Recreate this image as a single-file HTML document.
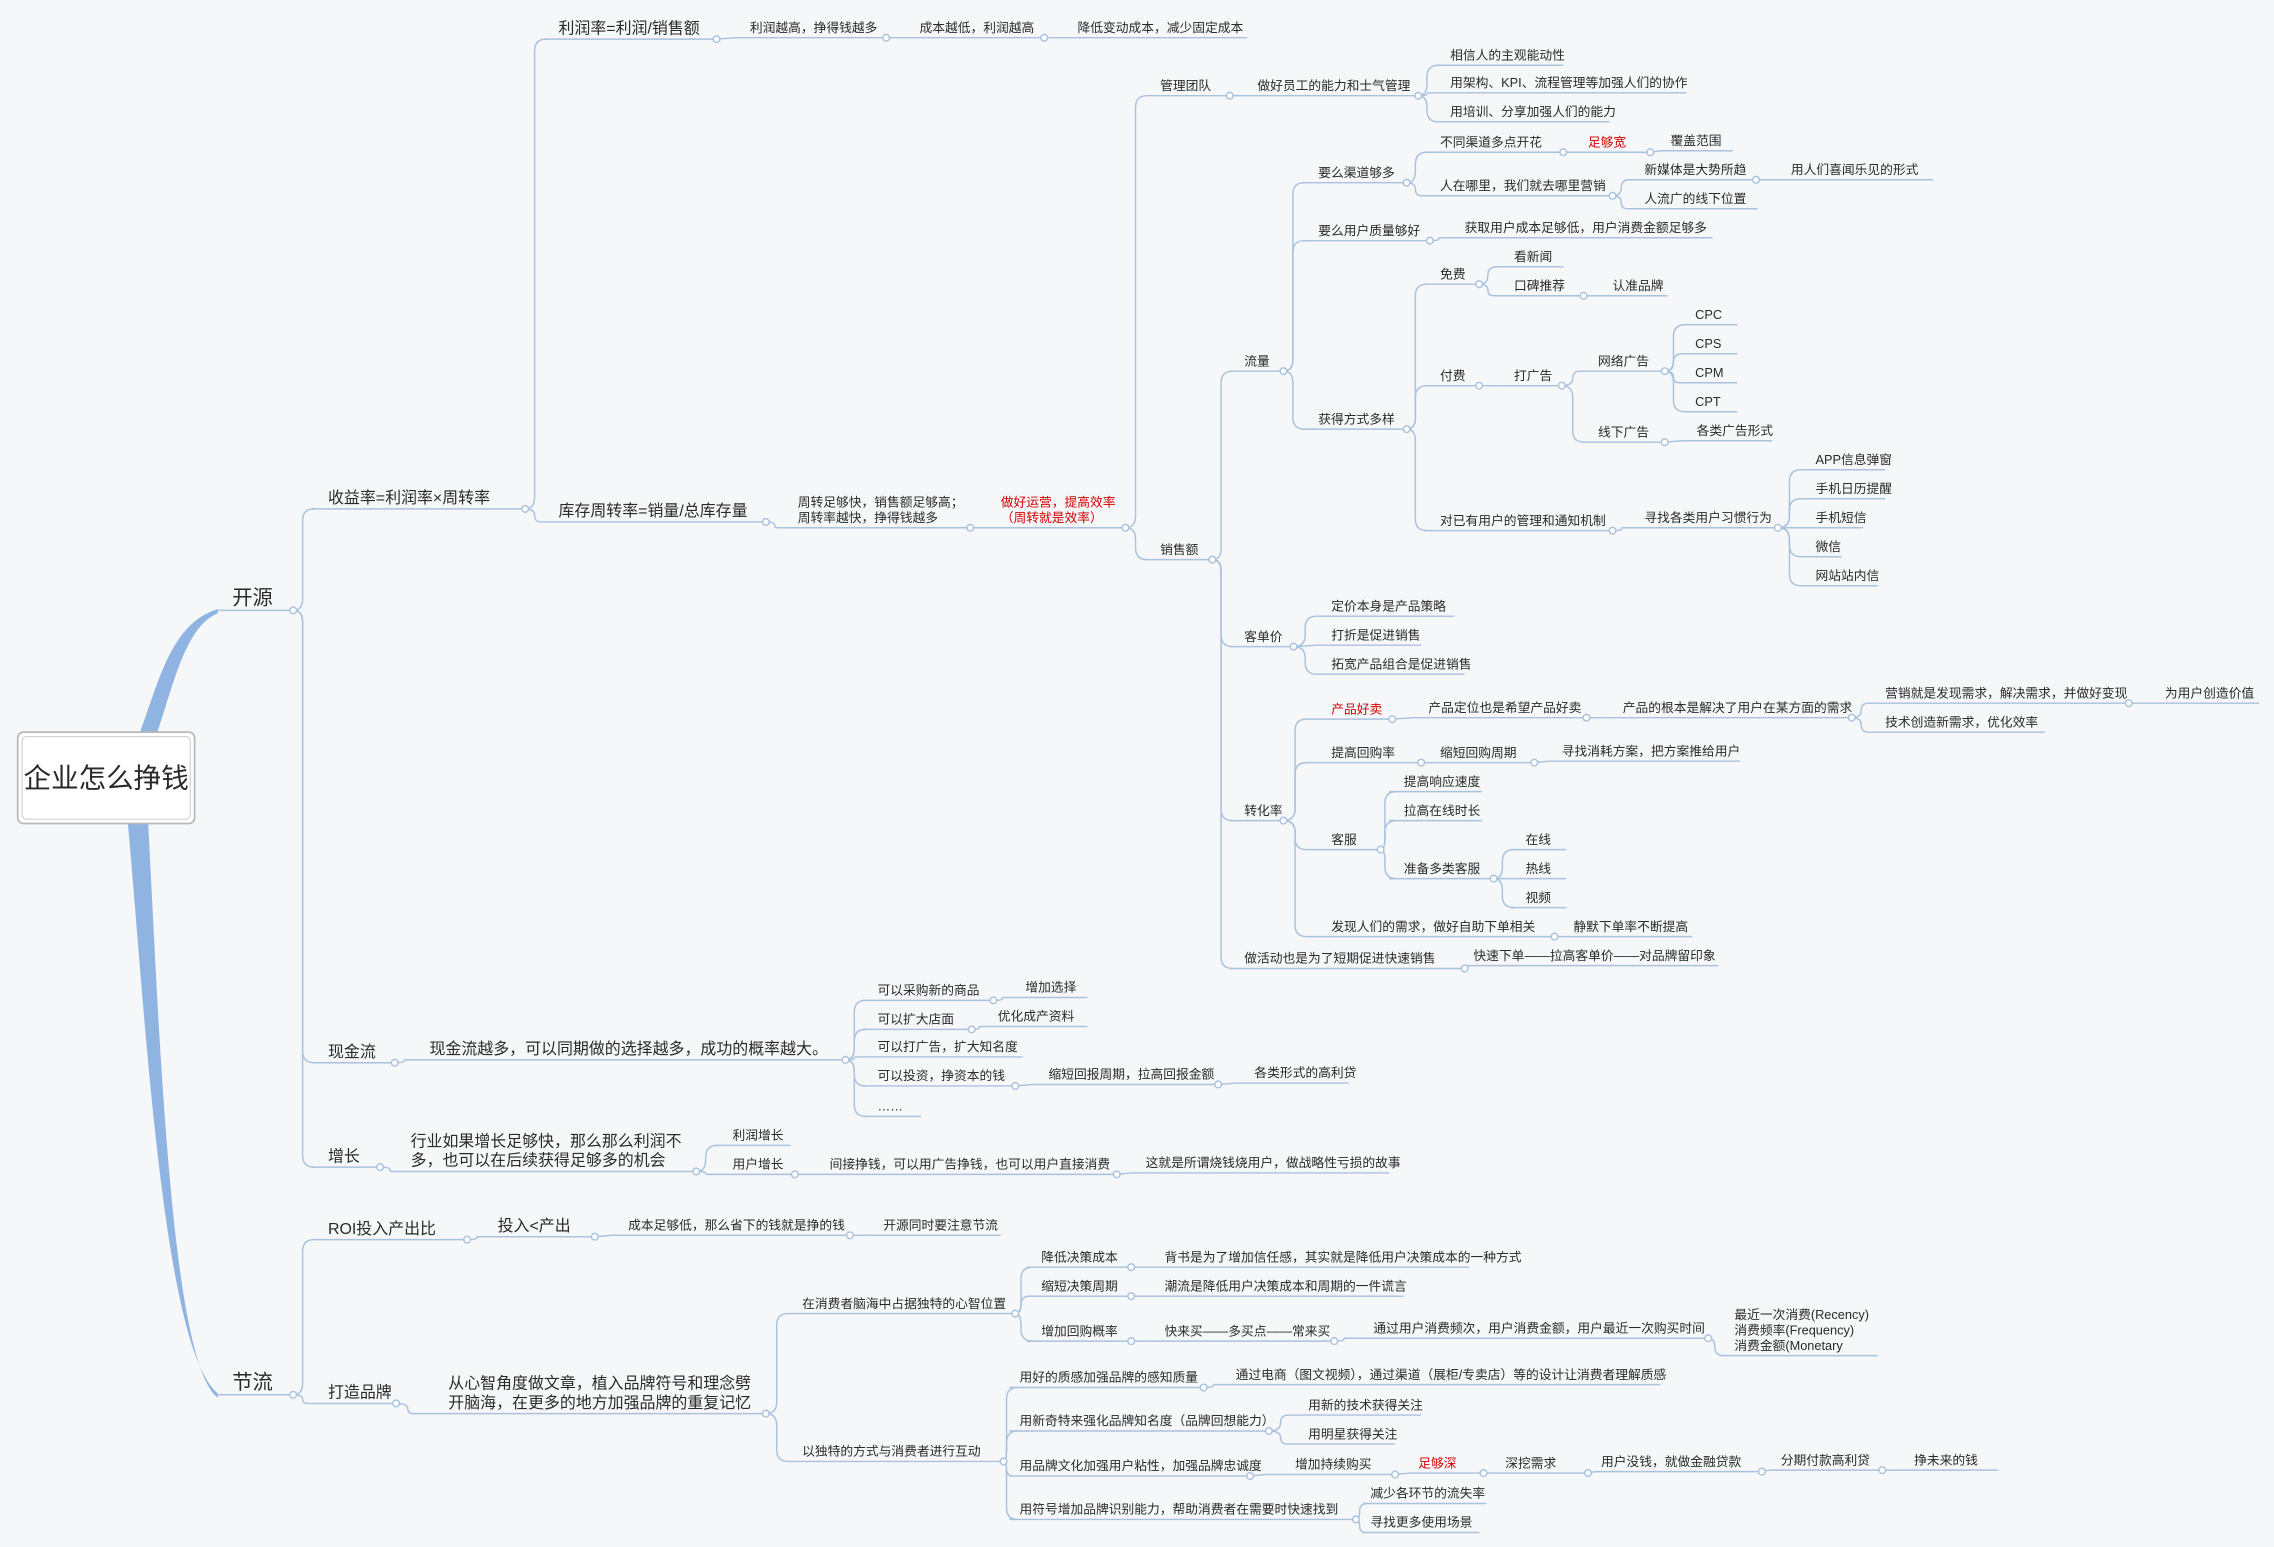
<!DOCTYPE html>
<html><head><meta charset="utf-8">
<style>
html,body{margin:0;padding:0;background:#f6f7f9;}
svg{display:block;}
text{font-family:"Liberation Sans","Noto Sans CJK SC",sans-serif;fill:#2a2a2a;}
</style></head>
<body>
<svg id="s" width="2274" height="1547" viewBox="0 0 1568 1067" xmlns="http://www.w3.org/2000/svg">
<rect width="1568" height="1067" fill="#f6f7f9"/>
<path d="M96,506 C110,468 118,430 150,420 L150,423 C128,432 120,470 108,506 Z" fill="#8fb4e1"/>
<path d="M88,568 C100,700 112,930 150,961 L150,964 C118,940 110,720 102,568 Z" fill="#8fb4e1"/>
<rect x="12" y="505" width="122" height="63" rx="4" fill="#fff" stroke="#b8b8b8" stroke-width="1.2"/>
<rect x="15" y="508" width="116" height="57" rx="3" fill="#fff" stroke="#d0d0d0" stroke-width="0.8"/>
<text x="73" y="543" font-size="19" text-anchor="middle">企业怎么挣钱</text>
<g id="g"></g>
</svg>
<script>
var N=[
["ky","",160,150,202,421,"开源",14,0],
["jl","",160,150,202,962,"节流",14,0],
["sy","ky",226,215,362,351,"收益率=利润率×周转率",11,0],
["xj","ky",226,215,272,733,"现金流",11,0],
["zz","ky",226,215,262,805,"增长",11,0],
["lr","sy",385,375,494,27,"利润率=利润/销售额",11,0],
["lr1","lr",517,507,611,26,"利润越高，挣得钱越多",8.8,0],
["lr2","lr1",634,624,720,26,"成本越低，利润越高",8.8,0],
["lr3","lr2",743,733,860,26,"降低变动成本，减少固定成本",8.8,0],
["kc","sy",385,375,528,360,"库存周转率=销量/总库存量",11,0],
["kc1","kc",550,540,669,364,"周转足够快，销售额足够高；\n周转率越快，挣得钱越多",8.8,0],
["kc2","kc1",690,682,776,364,"做好运营，提高效率\n（周转就是效率）",8.8,1],
["gl","kc2",800,790,848,66,"管理团队",8.8,0],
["gl1","gl",867,858,978,66,"做好员工的能力和士气管理",8.8,0],
["a1","gl1",1000,990,1078,45,"相信人的主观能动性",8.8,0],
["a2","gl1",1000,990,1163,64,"用架构、KPI、流程管理等加强人们的协作",8.8,0],
["a3","gl1",1000,990,1110,84,"用培训、分享加强人们的能力",8.8,0],
["xs","kc2",800,790,836,386,"销售额",8.8,0],
["ll","xs",858,848,885,256,"流量",8.8,0],
["qd","ll",909,898,970,126,"要么渠道够多",8.8,0],
["qd1","qd",993,982,1078,105,"不同渠道多点开花",8.8,0],
["qd2","qd1",1095,1088,1138,105,"足够宽",8.8,1],
["qd3","qd2",1152,1145,1195,104,"覆盖范围",8.8,0],
["qd4","qd",993,982,1112,135,"人在哪里，我们就去哪里营销",8.8,0],
["qd5","qd4",1134,1124,1211,124,"新媒体是大势所趋",8.8,0],
["qd6","qd5",1235,1222,1333,124,"用人们喜闻乐见的形式",8.8,0],
["qd7","qd4",1134,1124,1212,144,"人流广的线下位置",8.8,0],
["zl","ll",909,898,986,166,"要么用户质量够好",8.8,0],
["zl1","zl",1010,998,1181,164,"获取用户成本足够低，用户消费金额足够多",8.8,0],
["hd","ll",909,898,970,296,"获得方式多样",8.8,0],
["mf","hd",993,982,1020,196,"免费",8.8,0],
["mf1","mf",1044,1032,1078,184,"看新闻",8.8,0],
["mf2","mf",1044,1032,1092,204,"口碑推荐",8.8,0],
["mf3","mf2",1112,1102,1150,204,"认准品牌",8.8,0],
["ff","hd",993,982,1020,266,"付费",8.8,0],
["dg","ff",1044,1032,1077,266,"打广告",8.8,0],
["wl","dg",1102,1092,1148,256,"网络广告",8.8,0],
["c1","wl",1169,1160,1198,224,"CPC",8.8,0],
["c2","wl",1169,1160,1198,244,"CPS",8.8,0],
["c3","wl",1169,1160,1198,264,"CPM",8.8,0],
["c4","wl",1169,1160,1198,284,"CPT",8.8,0],
["xx","dg",1102,1092,1148,305,"线下广告",8.8,0],
["xx1","xx",1170,1160,1222,304,"各类广告形式",8.8,0],
["yy","hd",993,982,1112,366,"对已有用户的管理和通知机制",8.8,0],
["yy1","yy",1134,1124,1226,364,"寻找各类用户习惯行为",8.8,0],
["p1","yy1",1252,1242,1300,324,"APP信息弹窗",8.8,0],
["p2","yy1",1252,1242,1300,344,"手机日历提醒",8.8,0],
["p3","yy1",1252,1242,1285,364,"手机短信",8.8,0],
["p4","yy1",1252,1242,1270,384,"微信",8.8,0],
["p5","yy1",1252,1242,1295,404,"网站站内信",8.8,0],
["kd","xs",858,848,892,446,"客单价",8.8,0],
["kd1","kd",918,908,1003,425,"定价本身是产品策略",8.8,0],
["kd2","kd",918,908,980,445,"打折是促进销售",8.8,0],
["kd3","kd",918,908,1010,465,"拓宽产品组合是促进销售",8.8,0],
["zh","xs",858,848,885,566,"转化率",8.8,0],
["cp","zh",918,908,960,496,"产品好卖",8.8,1],
["cp1","cp",985,975,1094,495,"产品定位也是希望产品好卖",8.8,0],
["cp2","cp1",1119,1108,1277,495,"产品的根本是解决了用户在某方面的需求",8.8,0],
["cp3","cp2",1300,1290,1468,485,"营销就是发现需求，解决需求，并做好变现",8.8,0],
["cp4","cp3",1493,1482,1558,485,"为用户创造价值",8.8,0],
["cp5","cp2",1300,1290,1410,505,"技术创造新需求，优化效率",8.8,0],
["hg","zh",918,908,980,526,"提高回购率",8.8,0],
["hg1","hg",993,982,1058,526,"缩短回购周期",8.8,0],
["hg2","hg1",1077,1068,1200,525,"寻找消耗方案，把方案推给用户",8.8,0],
["kf","zh",918,908,952,586,"客服",8.8,0],
["kf1","kf",968,958,1022,546,"提高响应速度",8.8,0],
["kf2","kf",968,958,1022,566,"拉高在线时长",8.8,0],
["kf3","kf",968,958,1030,606,"准备多类客服",8.8,0],
["k1","kf3",1052,1042,1080,586,"在线",8.8,0],
["k2","kf3",1052,1042,1080,606,"热线",8.8,0],
["k3","kf3",1052,1042,1080,626,"视频",8.8,0],
["fx","zh",918,908,1072,646,"发现人们的需求，做好自助下单相关",8.8,0],
["fx1","fx",1085,1080,1167,646,"静默下单率不断提高",8.8,0],
["hdz","xs",858,848,1010,668,"做活动也是为了短期促进快速销售",8.8,0],
["hdz1","hdz",1016,1012,1185,666,"快速下单——拉高客单价——对品牌留印象",8.8,0],
["x1","xj",296,285,583,731,"现金流越多，可以同期做的选择越多，成功的概率越大。",11,0],
["x2","x1",605,595,685,690,"可以采购新的商品",8.8,0],
["x3","x2",707,697,750,688,"增加选择",8.8,0],
["x4","x1",605,595,670,710,"可以扩大店面",8.8,0],
["x5","x4",688,680,750,708,"优化成产资料",8.8,0],
["x6","x1",605,595,705,729,"可以打广告，扩大知名度",8.8,0],
["x7","x1",605,595,700,749,"可以投资，挣资本的钱",8.8,0],
["x8","x7",723,712,840,748,"缩短回报周期，拉高回报金额",8.8,0],
["x9","x8",865,852,930,747,"各类形式的高利贷",8.8,0],
["x10","x1",605,595,635,770,"……",8.8,0],
["z1","zz",283,275,480,808,"行业如果增长足够快，那么那么利润不\n多，也可以在后续获得足够多的机会",11,0],
["z2","z1",505,493,545,790,"利润增长",8.8,0],
["z3","z1",505,493,548,810,"用户增长",8.8,0],
["z4","z3",572,560,770,810,"间接挣钱，可以用广告挣钱，也可以用户直接消费",8.8,0],
["z5","z4",790,780,958,809,"这就是所谓烧钱烧用户，做战略性亏损的故事",8.8,0],
["roi","jl",226,215,322,855,"ROI投入产出比",11,0],
["r1","roi",343,335,410,853,"投入<产出",11,0],
["r2","r1",433,422,586,852,"成本足够低，那么省下的钱就是挣的钱",8.8,0],
["r3","r2",609,598,690,852,"开源同时要注意节流",8.8,0],
["pp","jl",226,215,273,968,"打造品牌",11,0],
["pp1","pp",309,300,528,975,"从心智角度做文章，植入品牌符号和理念劈\n开脑海，在更多的地方加强品牌的重复记忆",11,0],
["m1","pp1",553,543,700,906,"在消费者脑海中占据独特的心智位置",8.8,0],
["m2","m1",718,708,780,874,"降低决策成本",8.8,0],
["m3","m2",803,793,1013,874,"背书是为了增加信任感，其实就是降低用户决策成本的一种方式",8.8,0],
["m4","m1",718,708,780,894,"缩短决策周期",8.8,0],
["m5","m4",803,793,968,894,"潮流是降低用户决策成本和周期的一件谎言",8.8,0],
["m6","m1",718,708,780,925,"增加回购概率",8.8,0],
["m7","m6",803,793,920,925,"快来买——多买点——常来买",8.8,0],
["m8","m7",947,933,1178,923,"通过用户消费频次，用户消费金额，用户最近一次购买时间",8.8,0],
["m9","m8",1196,1187,1295,935,"最近一次消费(Recency)\n消费频率(Frequency)\n消费金额(Monetary",8.8,0],
["n1","pp1",553,543,692,1008,"以独特的方式与消费者进行互动",8.8,0],
["n2","n1",703,696,830,957,"用好的质感加强品牌的感知质量",8.8,0],
["n3","n2",852,843,1145,955,"通过电商（图文视频），通过渠道（展柜/专卖店）等的设计让消费者理解质感",8.8,0],
["n4","n1",703,696,875,987,"用新奇特来强化品牌知名度（品牌回想能力）",8.8,0],
["n5","n4",902,893,980,976,"用新的技术获得关注",8.8,0],
["n6","n4",902,893,962,996,"用明星获得关注",8.8,0],
["n7","n1",703,696,862,1018,"用品牌文化加强用户粘性，加强品牌忠诚度",8.8,0],
["n8","n7",893,873,962,1017,"增加持续购买",8.8,0],
["n9","n8",978,972,1023,1016,"足够深",8.8,1],
["n10","n9",1038,1030,1095,1016,"深挖需求",8.8,0],
["n11","n10",1104,1100,1215,1015,"用户没钱，就做金融贷款",8.8,0],
["n12","n11",1228,1220,1298,1014,"分期付款高利贷",8.8,0],
["n13","n12",1320,1305,1378,1014,"挣未来的钱",8.8,0],
["n14","n1",703,696,935,1048,"用符号增加品牌识别能力，帮助消费者在需要时快速找到",8.8,0],
["n15","n14",945,940,1025,1037,"减少各环节的流失率",8.8,0],
["n16","n14",945,940,1020,1057,"寻找更多使用场景",8.8,0]
];
var NS="http://www.w3.org/2000/svg",g=document.getElementById("g"),M={},hasC={};
N.forEach(function(n){M[n[0]]=n;if(n[1])hasC[n[1]]=1;});
var LC="#a9c2de";
function el(t,a,txt){var e=document.createElementNS(NS,t);for(var k in a)e.setAttribute(k,a[k]);if(txt!=null)e.textContent=txt;g.appendChild(e);return e;}
N.forEach(function(n){
 var p=M[n[1]];
 if(p){var px=p[4],py=p[5],cx=n[3],cy=n[5],gx=cx-px,mx=px+Math.min(gx*0.5,8),dy=cy-py,s=dy>=0?1:-1,r=Math.min(Math.abs(dy)/2,8);
  var d;
  if(Math.abs(dy)<1.5)d="M"+px+","+py+" L"+cx+","+cy;
  else d="M"+px+","+py+" Q"+mx+","+py+" "+mx+","+(py+s*r)+" L"+mx+","+(cy-s*r)+" Q"+mx+","+cy+" "+(mx+r)+","+cy+" L"+cx+","+cy;
  el("path",{d:d,fill:"none",stroke:LC,"stroke-width":1});}
 el("line",{x1:n[3],y1:n[5],x2:n[4],y2:n[5],stroke:LC,"stroke-width":1});
 var lines=n[6].split("\n"),sz=n[7],lh=sz*1.2;
 for(var i=0;i<lines.length;i++){
  var y=n[5]-4-(lines.length-1-i)*lh;
  var a={x:n[2],y:y,"font-size":sz};
  if(n[8])a.style="fill:#d40000";
  el("text",a,lines[i]);
 }
});
N.forEach(function(n){if(hasC[n[0]])el("circle",{cx:n[4],cy:n[5],r:2.3,fill:"#fff",stroke:LC,"stroke-width":1});});
</script>
</body></html>
